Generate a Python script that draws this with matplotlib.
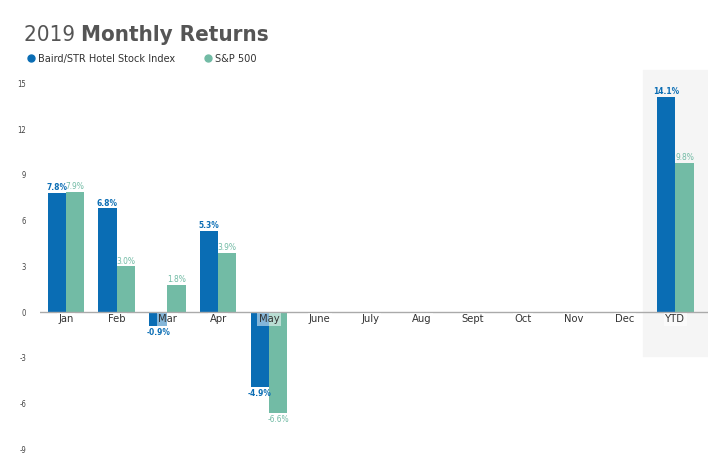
import matplotlib
matplotlib.use("Agg")
import matplotlib.pyplot as plt
from matplotlib.lines import Line2D
import numpy as np

plt.rcParams['font.family'] = ['Liberation Sans Narrow', 'DejaVu Sans']
plt.rcParams['font.stretch'] = 'condensed'

# data
months = ['Jan', 'Feb', 'Mar', 'Apr', 'May', 'June', 'July', 'Aug', 'Sept',
          'Oct', 'Nov', 'Dec', 'YTD']
baird = [7.8, 6.8, -0.9, 5.3, -4.9, None, None, None, None, None, None, None, 14.1]
sp500 = [7.9, 3.0, 1.8, 3.9, -6.6, None, None, None, None, None, None, None, 9.8]
yticks = [-9, -6, -3, 0, 3, 6, 9, 12, 15]

blue = '#0a6db4'
green = '#72bba5'
gray = '#555555'

fig = plt.figure(figsize=(7.26, 4.76), dpi=100)
ax = fig.add_axes([0.055, 0.04, 0.92, 0.817])

x = np.arange(len(months))
w = 0.36

# shaded YTD region
ax.axvspan(11.36, 12.64, ymin=0.26, ymax=0.995, color='#f5f5f5', zorder=0)

for i in range(len(months)):
    b = baird[i]
    s = sp500[i]
    if b is not None:
        ax.bar(x[i] - w / 2, b, width=w, color=blue, zorder=2)
        if b >= 0:
            ax.text(x[i] - w / 2, b + 0.05, f'{b:.1f}%', ha='center', va='bottom',
                    fontsize=6, color=blue, fontweight='bold')
        else:
            ax.text(x[i] - w / 2, b - 0.15, f'{b:.1f}%', ha='center', va='top',
                    fontsize=6, color=blue, fontweight='bold')
    if s is not None:
        ax.bar(x[i] + w / 2, s, width=w, color=green, zorder=2)
        if s >= 0:
            ax.text(x[i] + w / 2, s + 0.05, f'{s:.1f}%', ha='center', va='bottom',
                    fontsize=6, color=green)
        else:
            ax.text(x[i] + w / 2, s - 0.15, f'{s:.1f}%', ha='center', va='top',
                    fontsize=6, color=green)

ax.axhline(0, color='#aaaaaa', lw=1, zorder=3)

# month labels sit just under the zero line
for i, m in enumerate(months):
    ax.text(x[i], -0.15, m, ha='center', va='top', fontsize=8, color='#333333',
            zorder=4, bbox=dict(facecolor='white', alpha=0.5, edgecolor='none', pad=1))

ax.set_xlim(-0.51, 12.64)
ax.set_ylim(-9.5, 16)
ax.set_xticks([])
ax.set_yticks(yticks)
ax.set_yticklabels([str(t) for t in yticks], fontsize=5.5, color='#444444')
ax.tick_params(axis='y', length=0, pad=10)
for sp in ax.spines.values():
    sp.set_visible(False)

# title
t1 = fig.text(0.033, 0.927, '2019 ', fontsize=16, color=gray, va='center')
fig.canvas.draw()
bb = t1.get_window_extent()
fig.text(bb.x1 / fig.bbox.width, 0.927, 'Monthly Returns', fontsize=16,
         color=gray, fontweight='bold', va='center')

handles = [Line2D([], [], marker='o', ls='', color=blue, markersize=5),
           Line2D([], [], marker='o', ls='', color=green, markersize=5)]
fig.legend(handles, ['Baird/STR Hotel Stock Index', 'S&P 500'], ncol=2,
           loc='center left', bbox_to_anchor=(0.022, 0.877), frameon=False,
           fontsize=7.8, handletextpad=0.1, columnspacing=2.6, handlelength=1,
           labelcolor='#333333')

fig.savefig('out.png', dpi=100)
